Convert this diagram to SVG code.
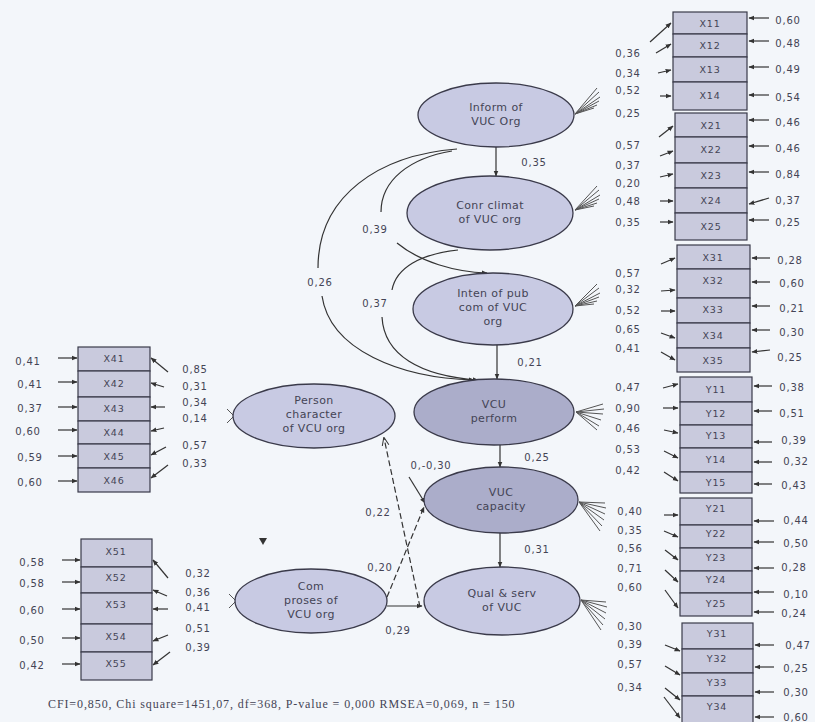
<svg xmlns="http://www.w3.org/2000/svg" width="815" height="722" viewBox="0 0 815 722">
<defs>
<marker id="ah" viewBox="0 0 10 10" refX="9" refY="5" markerWidth="5" markerHeight="5" orient="auto"><path d="M0,1 L10,5 L0,9 z" fill="#333"/></marker>
<marker id="oh" viewBox="0 0 10 10" refX="9" refY="5" markerWidth="7" markerHeight="7" orient="auto"><path d="M0,1 L10,5 L0,9" fill="none" stroke="#333" stroke-width="1.2"/></marker>
<style>
.bg{fill:#f3f6fa}
.el{fill:#c8cae3;stroke:#3a3a4a;stroke-width:1.3}
.eld{fill:#abadca;stroke:#3a3a4a;stroke-width:1.3}
.bx{fill:#c9cadd;stroke:#3a3a4a;stroke-width:1.2}
.t{font-family:"DejaVu Sans",sans-serif;font-size:11px;fill:#444455;text-anchor:middle;letter-spacing:0.4px}
.bt{font-family:"DejaVu Sans",sans-serif;font-size:9.5px;fill:#444455;text-anchor:middle;letter-spacing:0.8px}
.lb{font-family:"DejaVu Sans",sans-serif;font-size:10px;fill:#444455;text-anchor:middle;letter-spacing:0.8px}
.ft{font-family:"Liberation Serif",serif;font-size:12px;fill:#444455;letter-spacing:0.9px}
.ln{fill:none;stroke:#333;stroke-width:1.2}
.ar{fill:none;stroke:#333;stroke-width:1.2;marker-end:url(#ah)}
.ds{fill:none;stroke:#333;stroke-width:1.2;stroke-dasharray:6 3}
.fn{fill:none;stroke:#555;stroke-width:1}
</style>
</defs>
<rect class="bg" x="0" y="0" width="815" height="722"/>

<!-- connectors -->
<g id="connectors">
<path class="ar" d="M496,147 L496,176"/>
<path class="ar" d="M497,345 L497,379"/>
<path class="ar" d="M500,445 L500,467"/>
<path class="ar" d="M500,533 L500,567"/>
<path class="ln" d="M457,149 C380,155 318,195 318,268"/>
<path class="ar" d="M322,296 C330,350 400,378 474,380"/>
<path class="ln" d="M452,151 C410,158 381,180 381,212"/>
<path class="ar" d="M397,243 C420,262 455,272 487,273"/>
<path class="ln" d="M458,250 C420,254 396,268 392,290"/>
<path class="ar" d="M382,317 C384,355 420,376 478,380"/>
<path class="ds" d="M420,607 L384,438" marker-end="url(#oh)"/>
<path class="ar" d="M409,477 L425,503"/>
<path class="ds" d="M387,597 L424,507" marker-end="url(#ah)"/>
<path class="ar" d="M387,606 L422,606"/>
<g class="fn">
<path d="M575,114 L597,88 M575,114 L599,92 M575,114 L600,97 M575,114 L599,101 M575,114 L597,105 M575,114 L594,108"/>
<path d="M575,210 L597,186 M575,210 L599,190 M575,210 L600,195 M575,210 L599,199 M575,210 L597,203 M575,210 L594,206"/>
<path d="M575,306 L597,284 M575,306 L599,288 M575,306 L600,293 M575,306 L599,297 M575,306 L597,301 M575,306 L594,304"/>
<path d="M576,412 L603,404 M576,412 L604,409 M576,412 L603,414 M576,412 L601,420 M576,412 L599,426 M576,412 L597,430"/>
<path d="M579,502 L605,503 M579,502 L606,508 M579,502 L605,514 M579,502 L604,520 M579,502 L602,526 M579,502 L600,531"/>
<path d="M581,600 L606,602 M581,600 L607,607 M581,600 L606,613 M581,600 L605,619 M581,600 L603,625 M581,600 L601,630"/>
<path d="M234,416 L227,409 M234,416 L227,423 M236,601 L229,594 M236,601 L229,608"/>
</g>
<path class="ar" d="M650,42 L671,23"/>
<path class="ar" d="M656,53 L671,44"/>
<path class="ar" d="M658,73 L671,70"/>
<path class="ar" d="M660,96 L671,96"/>
<path class="ar" d="M659,137 L673,126"/>
<path class="ar" d="M660,156 L673,151"/>
<path class="ar" d="M660,177 L673,174"/>
<path class="ar" d="M660,201 L673,201"/>
<path class="ar" d="M660,222 L673,222"/>
<path class="ar" d="M661,264 L675,258"/>
<path class="ar" d="M661,291 L675,290"/>
<path class="ar" d="M661,311 L675,311"/>
<path class="ar" d="M661,333 L675,338"/>
<path class="ar" d="M661,352 L675,360"/>
<path class="ar" d="M663,388 L678,384"/>
<path class="ar" d="M663,408 L678,408"/>
<path class="ar" d="M664,430 L678,433"/>
<path class="ar" d="M664,451 L678,458"/>
<path class="ar" d="M664,472 L678,481"/>
<path class="ar" d="M664,515 L678,515"/>
<path class="ar" d="M664,531 L678,537"/>
<path class="ar" d="M665,550 L678,560"/>
<path class="ar" d="M665,570 L678,582"/>
<path class="ar" d="M665,590 L678,608"/>
<path class="ar" d="M665,645 L680,651"/>
<path class="ar" d="M665,666 L680,675"/>
<path class="ar" d="M665,688 L680,700"/>
<path class="ar" d="M664,697 L680,718"/>
<path class="ar" d="M769,18 L749,18"/>
<path class="ar" d="M769,41 L749,41"/>
<path class="ar" d="M769,67 L749,67"/>
<path class="ar" d="M769,95 L749,95"/>
<path class="ar" d="M769,120 L749,120"/>
<path class="ar" d="M769,146 L749,146"/>
<path class="ar" d="M769,172 L749,172"/>
<path class="ar" d="M769,198 L749,204"/>
<path class="ar" d="M769,220 L749,220"/>
<path class="ar" d="M770,258 L752,258"/>
<path class="ar" d="M770,282 L752,282"/>
<path class="ar" d="M770,306 L752,306"/>
<path class="ar" d="M770,330 L752,330"/>
<path class="ar" d="M770,350 L752,352"/>
<path class="ar" d="M772,386 L754,386"/>
<path class="ar" d="M772,411 L754,411"/>
<path class="ar" d="M772,442 L754,442"/>
<path class="ar" d="M772,462 L754,462"/>
<path class="ar" d="M772,484 L754,484"/>
<path class="ar" d="M774,521 L754,521"/>
<path class="ar" d="M774,542 L754,542"/>
<path class="ar" d="M774,568 L754,568"/>
<path class="ar" d="M774,592 L754,592"/>
<path class="ar" d="M774,612 L754,612"/>
<path class="ar" d="M774,645 L755,645"/>
<path class="ar" d="M774,667 L755,667"/>
<path class="ar" d="M774,692 L755,692"/>
<path class="ar" d="M774,717 L755,717"/>
<path class="ar" d="M58,358 L77,358"/>
<path class="ar" d="M58,382 L77,382"/>
<path class="ar" d="M58,407 L77,407"/>
<path class="ar" d="M58,430 L77,430"/>
<path class="ar" d="M58,456 L77,456"/>
<path class="ar" d="M58,481 L77,481"/>
<path class="ar" d="M168,372 L151,358"/>
<path class="ar" d="M164,387 L151,383"/>
<path class="ar" d="M165,407 L151,407"/>
<path class="ar" d="M164,428 L151,431"/>
<path class="ar" d="M166,447 L151,455"/>
<path class="ar" d="M168,465 L151,478"/>
<path class="ar" d="M62,560 L80,560"/>
<path class="ar" d="M62,582 L80,582"/>
<path class="ar" d="M62,609 L80,609"/>
<path class="ar" d="M62,638 L80,638"/>
<path class="ar" d="M62,664 L80,664"/>
<path class="ar" d="M168,578 L153,560"/>
<path class="ar" d="M167,596 L153,590"/>
<path class="ar" d="M168,609 L153,609"/>
<path class="ar" d="M168,635 L153,641"/>
<path class="ar" d="M170,652 L153,665"/>
<polygon points="259,538 267,538 263,545" fill="#333"/>
</g>

<g id="path-labels">
<text class="lb" x="534" y="166">0,35</text>
<text class="lb" x="375" y="233">0,39</text>
<text class="lb" x="320" y="286">0,26</text>
<text class="lb" x="375" y="307">0,37</text>
<text class="lb" x="530" y="366">0,21</text>
<text class="lb" x="537" y="461">0,25</text>
<text class="lb" x="431" y="469">0,-0,30</text>
<text class="lb" x="378" y="516">0,22</text>
<text class="lb" x="537" y="553">0,31</text>
<text class="lb" x="380" y="571">0,20</text>
<text class="lb" x="398" y="634">0,29</text>
</g>

<g id="inform"><ellipse class="el" cx="496" cy="115" rx="78" ry="32"/><text class="t" x="496" y="111">Inform of</text><text class="t" x="496" y="125">VUC Org</text></g>
<g id="conr"><ellipse class="el" cx="490" cy="213" rx="83" ry="37"/><text class="t" x="490" y="209">Conr climat</text><text class="t" x="490" y="223">of VUC org</text></g>
<g id="inten"><ellipse class="el" cx="493" cy="309" rx="80" ry="36"/><text class="t" x="493" y="297">Inten of pub</text><text class="t" x="493" y="311">com of VUC</text><text class="t" x="493" y="325">org</text></g>
<g id="perform"><ellipse class="eld" cx="494" cy="412" rx="80" ry="33"/><text class="t" x="494" y="408">VCU</text><text class="t" x="494" y="422">perform</text></g>
<g id="capacity"><ellipse class="eld" cx="501" cy="500" rx="77" ry="33"/><text class="t" x="501" y="496">VUC</text><text class="t" x="501" y="510">capacity</text></g>
<g id="qual"><ellipse class="el" cx="502" cy="601" rx="78" ry="34"/><text class="t" x="502" y="597">Qual &amp; serv</text><text class="t" x="502" y="611">of VUC</text></g>
<g id="person"><ellipse class="el" cx="314" cy="416" rx="81" ry="32"/><text class="t" x="314" y="404">Person</text><text class="t" x="314" y="418">character</text><text class="t" x="314" y="432">of VCU org</text></g>
<g id="com"><ellipse class="el" cx="311" cy="601" rx="76" ry="32"/><text class="t" x="311" y="590">Com</text><text class="t" x="311" y="604">proses of</text><text class="t" x="311" y="618">VCU org</text></g>

<g id="X11"><rect class="bx" x="673" y="12" width="74" height="22"/><text class="bt" x="710" y="27">X11</text></g>
<g id="X12"><rect class="bx" x="673" y="34" width="74" height="23"/><text class="bt" x="710" y="49">X12</text></g>
<g id="X13"><rect class="bx" x="673" y="57" width="74" height="25"/><text class="bt" x="710" y="73">X13</text></g>
<g id="X14"><rect class="bx" x="673" y="82" width="74" height="28"/><text class="bt" x="710" y="99">X14</text></g>
<g id="X21"><rect class="bx" x="675" y="113" width="72" height="24"/><text class="bt" x="711" y="129">X21</text></g>
<g id="X22"><rect class="bx" x="675" y="137" width="72" height="26"/><text class="bt" x="711" y="153">X22</text></g>
<g id="X23"><rect class="bx" x="675" y="163" width="72" height="25"/><text class="bt" x="711" y="179">X23</text></g>
<g id="X24"><rect class="bx" x="675" y="188" width="72" height="25"/><text class="bt" x="711" y="204">X24</text></g>
<g id="X25"><rect class="bx" x="675" y="213" width="72" height="27"/><text class="bt" x="711" y="230">X25</text></g>
<g id="X31"><rect class="bx" x="677" y="245" width="73" height="24"/><text class="bt" x="713" y="261">X31</text></g>
<g id="X32"><rect class="bx" x="677" y="269" width="73" height="29"/><text class="bt" x="713" y="284">X32</text></g>
<g id="X33"><rect class="bx" x="677" y="298" width="73" height="25"/><text class="bt" x="713" y="313">X33</text></g>
<g id="X34"><rect class="bx" x="677" y="323" width="73" height="25"/><text class="bt" x="713" y="339">X34</text></g>
<g id="X35"><rect class="bx" x="677" y="348" width="73" height="24"/><text class="bt" x="713" y="364">X35</text></g>
<g id="Y11"><rect class="bx" x="680" y="377" width="72" height="25"/><text class="bt" x="716" y="393">Y11</text></g>
<g id="Y12"><rect class="bx" x="680" y="402" width="72" height="23"/><text class="bt" x="716" y="417">Y12</text></g>
<g id="Y13"><rect class="bx" x="680" y="425" width="72" height="23"/><text class="bt" x="716" y="439">Y13</text></g>
<g id="Y14"><rect class="bx" x="680" y="448" width="72" height="24"/><text class="bt" x="716" y="463">Y14</text></g>
<g id="Y15"><rect class="bx" x="680" y="472" width="72" height="21"/><text class="bt" x="716" y="486">Y15</text></g>
<g id="Y21"><rect class="bx" x="680" y="498" width="72" height="27"/><text class="bt" x="716" y="512">Y21</text></g>
<g id="Y22"><rect class="bx" x="680" y="525" width="72" height="23"/><text class="bt" x="716" y="537">Y22</text></g>
<g id="Y23"><rect class="bx" x="680" y="548" width="72" height="23"/><text class="bt" x="716" y="561">Y23</text></g>
<g id="Y24"><rect class="bx" x="680" y="571" width="72" height="22"/><text class="bt" x="716" y="583">Y24</text></g>
<g id="Y25"><rect class="bx" x="680" y="593" width="72" height="23"/><text class="bt" x="716" y="607">Y25</text></g>
<g id="Y31"><rect class="bx" x="682" y="623" width="71" height="26"/><text class="bt" x="717" y="637">Y31</text></g>
<g id="Y32"><rect class="bx" x="682" y="649" width="71" height="24"/><text class="bt" x="717" y="662">Y32</text></g>
<g id="Y33"><rect class="bx" x="682" y="673" width="71" height="23"/><text class="bt" x="717" y="686">Y33</text></g>
<g id="Y34"><rect class="bx" x="682" y="696" width="71" height="28"/><text class="bt" x="717" y="710">Y34</text></g>

<g id="X41"><rect class="bx" x="78" y="347" width="72" height="24"/><text class="bt" x="114" y="362">X41</text></g>
<g id="X42"><rect class="bx" x="78" y="371" width="72" height="26"/><text class="bt" x="114" y="387">X42</text></g>
<g id="X43"><rect class="bx" x="78" y="397" width="72" height="24"/><text class="bt" x="114" y="412">X43</text></g>
<g id="X44"><rect class="bx" x="78" y="421" width="72" height="23"/><text class="bt" x="114" y="436">X44</text></g>
<g id="X45"><rect class="bx" x="78" y="444" width="72" height="24"/><text class="bt" x="114" y="460">X45</text></g>
<g id="X46"><rect class="bx" x="78" y="468" width="72" height="24"/><text class="bt" x="114" y="484">X46</text></g>
<g id="X51"><rect class="bx" x="81" y="539" width="71" height="28"/><text class="bt" x="116" y="555">X51</text></g>
<g id="X52"><rect class="bx" x="81" y="567" width="71" height="26"/><text class="bt" x="116" y="581">X52</text></g>
<g id="X53"><rect class="bx" x="81" y="593" width="71" height="31"/><text class="bt" x="116" y="608">X53</text></g>
<g id="X54"><rect class="bx" x="81" y="624" width="71" height="28"/><text class="bt" x="116" y="640">X54</text></g>
<g id="X55"><rect class="bx" x="81" y="652" width="71" height="28"/><text class="bt" x="116" y="667">X55</text></g>

<g id="right-labels">
<text class="lb" x="628" y="57">0,36</text>
<text class="lb" x="628" y="77">0,34</text>
<text class="lb" x="628" y="94">0,52</text>
<text class="lb" x="628" y="117">0,25</text>
<text class="lb" x="628" y="149">0,57</text>
<text class="lb" x="628" y="169">0,37</text>
<text class="lb" x="628" y="187">0,20</text>
<text class="lb" x="628" y="205">0,48</text>
<text class="lb" x="628" y="226">0,35</text>
<text class="lb" x="628" y="277">0,57</text>
<text class="lb" x="628" y="293">0,32</text>
<text class="lb" x="628" y="314">0,52</text>
<text class="lb" x="628" y="333">0,65</text>
<text class="lb" x="628" y="352">0,41</text>
<text class="lb" x="628" y="391">0,47</text>
<text class="lb" x="628" y="412">0,90</text>
<text class="lb" x="628" y="432">0,46</text>
<text class="lb" x="628" y="453">0,53</text>
<text class="lb" x="628" y="474">0,42</text>
<text class="lb" x="630" y="515">0,40</text>
<text class="lb" x="630" y="534">0,35</text>
<text class="lb" x="630" y="552">0,56</text>
<text class="lb" x="630" y="572">0,71</text>
<text class="lb" x="630" y="591">0,60</text>
<text class="lb" x="630" y="630">0,30</text>
<text class="lb" x="630" y="648">0,39</text>
<text class="lb" x="630" y="668">0,57</text>
<text class="lb" x="630" y="691">0,34</text>
<text class="lb" x="788" y="24">0,60</text>
<text class="lb" x="788" y="47">0,48</text>
<text class="lb" x="788" y="73">0,49</text>
<text class="lb" x="788" y="101">0,54</text>
<text class="lb" x="788" y="126">0,46</text>
<text class="lb" x="788" y="152">0,46</text>
<text class="lb" x="788" y="178">0,84</text>
<text class="lb" x="788" y="204">0,37</text>
<text class="lb" x="788" y="226">0,25</text>
<text class="lb" x="790" y="264">0,28</text>
<text class="lb" x="792" y="287">0,60</text>
<text class="lb" x="792" y="312">0,21</text>
<text class="lb" x="792" y="336">0,30</text>
<text class="lb" x="790" y="361">0,25</text>
<text class="lb" x="792" y="391">0,38</text>
<text class="lb" x="792" y="417">0,51</text>
<text class="lb" x="794" y="444">0,39</text>
<text class="lb" x="796" y="465">0,32</text>
<text class="lb" x="794" y="489">0,43</text>
<text class="lb" x="796" y="524">0,44</text>
<text class="lb" x="796" y="547">0,50</text>
<text class="lb" x="794" y="571">0,28</text>
<text class="lb" x="796" y="598">0,10</text>
<text class="lb" x="794" y="617">0,24</text>
<text class="lb" x="798" y="649">0,47</text>
<text class="lb" x="796" y="672">0,25</text>
<text class="lb" x="796" y="696">0,30</text>
<text class="lb" x="796" y="721">0,60</text>
</g>
<g id="left-labels">
<text class="lb" x="28" y="365">0,41</text>
<text class="lb" x="30" y="388">0,41</text>
<text class="lb" x="30" y="412">0,37</text>
<text class="lb" x="28" y="435">0,60</text>
<text class="lb" x="30" y="461">0,59</text>
<text class="lb" x="30" y="486">0,60</text>
<text class="lb" x="195" y="373">0,85</text>
<text class="lb" x="195" y="390">0,31</text>
<text class="lb" x="195" y="406">0,34</text>
<text class="lb" x="195" y="422">0,14</text>
<text class="lb" x="195" y="449">0,57</text>
<text class="lb" x="195" y="467">0,33</text>
<text class="lb" x="32" y="566">0,58</text>
<text class="lb" x="32" y="587">0,58</text>
<text class="lb" x="32" y="614">0,60</text>
<text class="lb" x="32" y="644">0,50</text>
<text class="lb" x="32" y="669">0,42</text>
<text class="lb" x="198" y="577">0,32</text>
<text class="lb" x="198" y="596">0,36</text>
<text class="lb" x="198" y="611">0,41</text>
<text class="lb" x="198" y="632">0,51</text>
<text class="lb" x="198" y="651">0,39</text>
</g>

<text class="ft" x="48" y="708">CFI=0,850, Chi square=1451,07,  df=368, P-value = 0,000  RMSEA=0,069, n = 150</text>
</svg>
